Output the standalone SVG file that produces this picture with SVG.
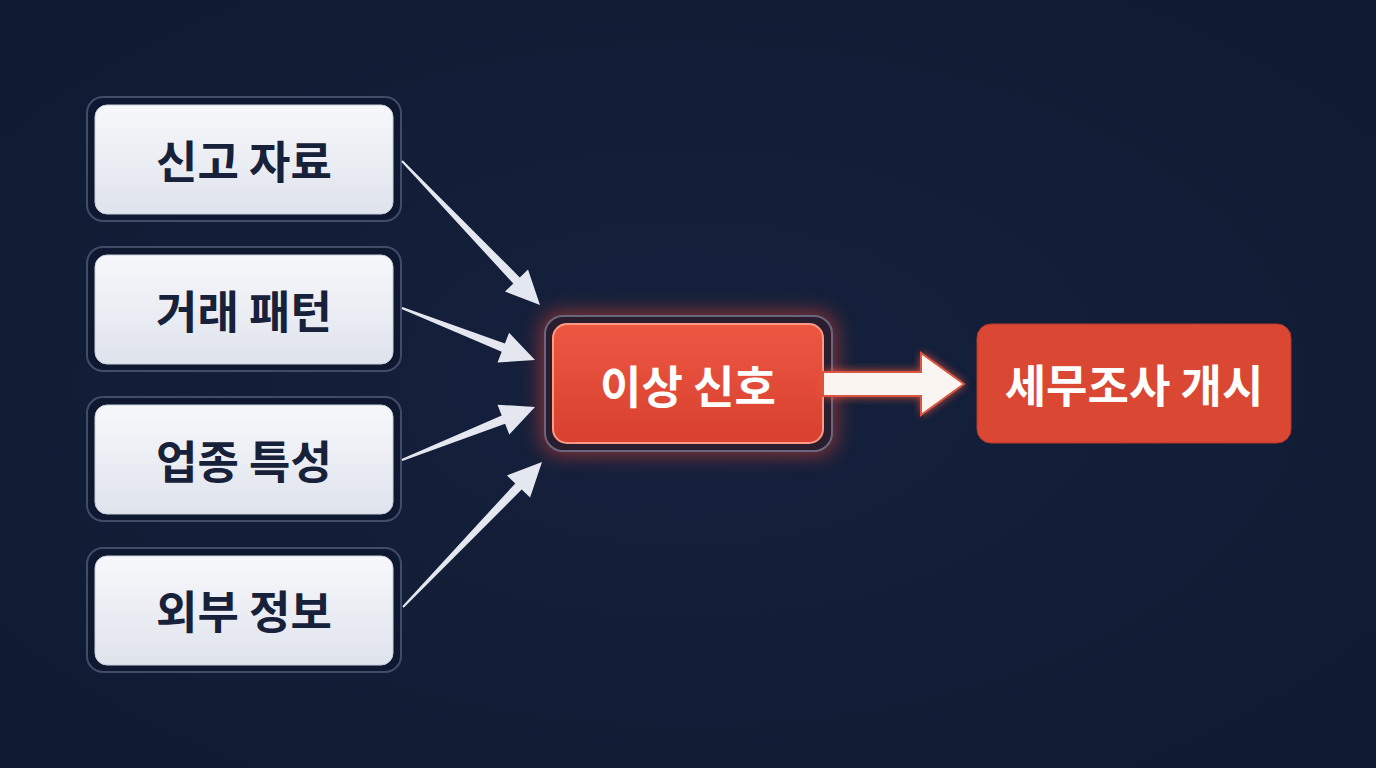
<svg xmlns="http://www.w3.org/2000/svg" width="1376" height="768" viewBox="0 0 1376 768">
<defs>
<radialGradient id="bg" cx="50%" cy="50%" r="75%">
<stop offset="0" stop-color="#15213d"/>
<stop offset="1" stop-color="#0f1a31"/>
</radialGradient>
<linearGradient id="card" x1="0" y1="0" x2="0" y2="1">
<stop offset="0" stop-color="#f7f8fb"/>
<stop offset="1" stop-color="#dfe3ec"/>
</linearGradient>
<linearGradient id="red" x1="0" y1="0" x2="0" y2="1">
<stop offset="0" stop-color="#ec5742"/>
<stop offset="1" stop-color="#d9402f"/>
</linearGradient>
<filter id="glow" x="-30%" y="-50%" width="160%" height="200%">
<feGaussianBlur stdDeviation="10"/>
</filter>
<filter id="aglow" x="-20%" y="-60%" width="140%" height="220%">
<feGaussianBlur stdDeviation="4"/>
</filter>
<style>
.frame{fill:#0e1830;stroke:#404c68;stroke-width:2}
.card{fill:url(#card);stroke:#c9cfdb;stroke-width:1}
.lbl{font-family:"Noto Sans CJK KR","Noto Sans",sans-serif;font-weight:700;font-size:45px;text-anchor:middle;dominant-baseline:central}
.dark{fill:#18213a}
.white{fill:#ffffff}
.arr{fill:#e4e7ef}
</style>
</defs>
<rect width="1376" height="768" fill="url(#bg)"/>

<g id="node-report">
<rect class="frame" x="87" y="97" width="314" height="124" rx="16"/>
<rect class="card" x="95" y="105" width="298" height="109" rx="12"/>
<text class="lbl dark" x="244" y="159">신고 자료</text>
</g>
<g id="node-transaction">
<rect class="frame" x="87" y="247" width="314" height="124" rx="16"/>
<rect class="card" x="95" y="255" width="298" height="109" rx="12"/>
<text class="lbl dark" x="244" y="309">거래 패턴</text>
</g>
<g id="node-industry">
<rect class="frame" x="87" y="397" width="314" height="124" rx="16"/>
<rect class="card" x="95" y="405" width="298" height="109" rx="12"/>
<text class="lbl dark" x="244" y="459">업종 특성</text>
</g>
<g id="node-external">
<rect class="frame" x="87" y="548" width="314" height="124" rx="16"/>
<rect class="card" x="95" y="556" width="298" height="109" rx="12"/>
<text class="lbl dark" x="244" y="609">외부 정보</text>
</g>

<g id="node-signal">
<rect x="541" y="312" width="295" height="143" rx="20" fill="#e5452f" opacity="0.55" filter="url(#glow)"/>
<rect x="545" y="316" width="287" height="135" rx="18" fill="#2a1e2e" stroke="#6a6680" stroke-width="2"/>
<rect x="553" y="324" width="270" height="119" rx="14" fill="url(#red)" stroke="#ff9a88" stroke-width="2"/>
<text class="lbl white" x="688" y="384">이상 신호</text>
</g>

<g id="node-audit">
<rect x="977" y="324" width="314" height="119" rx="14" fill="#da4732" stroke="#b8382a" stroke-width="1"/>
<text class="lbl white" x="1134" y="383">세무조사 개시</text>
</g>

<g id="connectors">
<g id="edge-report" class="arr">
<polygon points="401.3,161.7 513.3,283.6 505,291.6 540,305 528,269.4 519.8,277.4 402.7,160.3"/>
</g>
<g id="edge-transaction" class="arr">
<polygon points="401.6,308.9 501.7,351.8 497.5,362.5 535,360 509.1,332.7 504.9,343.4 402.4,307.1"/>
</g>
<g id="edge-industry" class="arr">
<polygon points="402.4,460.9 505.1,423.8 509.3,434.5 535,407 497.5,404.7 501.7,415.4 401.6,459.1"/>
</g>
<g id="edge-external" class="arr">
<polygon points="403.7,607.7 521.7,489.6 530.1,497.6 542,462 506.9,475.4 515.3,483.4 402.3,606.3"/>
</g>
<g id="edge-signal-audit">
<polygon points="823,371 921,371 921,352 965,384 921,416 921,397 823,397" fill="#ff5a3c" opacity="0.8" filter="url(#aglow)"/>
<polygon points="823,372 921,372 921,353 964,384 921,415 921,396 823,396" fill="#fbf5f2" stroke="#d8553f" stroke-width="2"/>
</g>
</g>
</svg>
